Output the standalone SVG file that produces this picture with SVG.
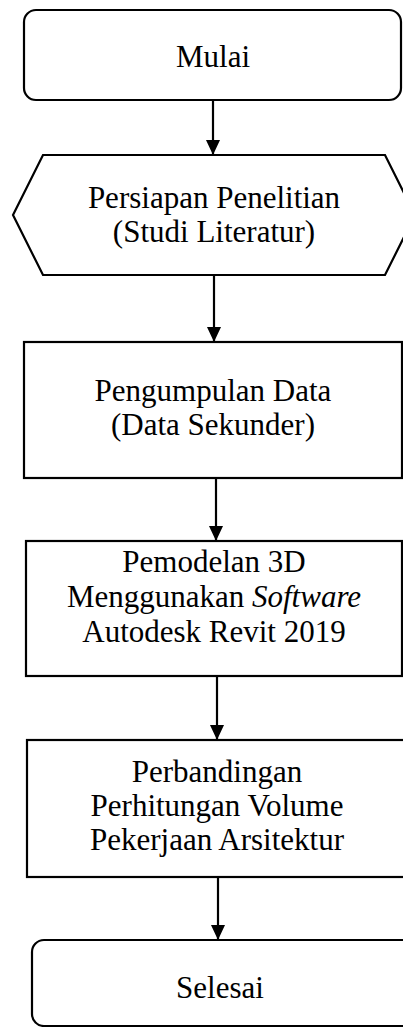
<svg xmlns="http://www.w3.org/2000/svg" width="403" height="1027" viewBox="0 0 403 1027">
<style>
.s{fill:#fff;stroke:#000;stroke-width:2.2}
.t{font-family:"Liberation Serif","Times New Roman",serif;font-size:31px;fill:#000;text-anchor:middle}
.c{stroke:#000;stroke-width:2.2;fill:none}
</style>
<defs>
<marker id="ah" markerUnits="userSpaceOnUse" markerWidth="16" markerHeight="16" viewBox="0 0 16 16" refX="15" refY="8" orient="auto">
<path d="M0,1 L15,8 L0,15 Z" fill="#000"/>
</marker>
</defs>
<rect width="403" height="1027" fill="#fff"/>
<g id="connectors">
<line class="c" x1="213" y1="100" x2="213" y2="155" marker-end="url(#ah)"/>
<line class="c" x1="214" y1="275" x2="214" y2="342" marker-end="url(#ah)"/>
<line class="c" x1="216" y1="478" x2="216" y2="541" marker-end="url(#ah)"/>
<line class="c" x1="217" y1="676" x2="217" y2="740" marker-end="url(#ah)"/>
<line class="c" x1="218" y1="877" x2="218" y2="940" marker-end="url(#ah)"/>
</g>
<g id="mulai">
<rect class="s" x="24" y="10" width="377" height="90" rx="12"/>
<text class="t" x="213" y="67">Mulai</text>
</g>
<g id="persiapan">
<polygon class="s" points="43,155 385,155 415,215 385,275 43,275 13,215"/>
<text class="t" x="214" y="208">Persiapan Penelitian</text>
<text class="t" x="214" y="242">(Studi Literatur)</text>
</g>
<g id="pengumpulan">
<rect class="s" x="24" y="342" width="378" height="136"/>
<text class="t" x="213" y="401">Pengumpulan Data</text>
<text class="t" x="213" y="435">(Data Sekunder)</text>
</g>
<g id="pemodelan">
<rect class="s" x="26" y="541" width="376" height="135"/>
<text class="t" x="214" y="572">Pemodelan 3D</text>
<text class="t" x="214" y="607">Menggunakan <tspan font-style="italic">Software</tspan></text>
<text class="t" x="214" y="642">Autodesk Revit 2019</text>
</g>
<g id="perbandingan">
<rect class="s" x="27" y="740" width="385" height="137"/>
<text class="t" x="217" y="782">Perbandingan</text>
<text class="t" x="217" y="816">Perhitungan Volume</text>
<text class="t" x="217" y="850">Pekerjaan Arsitektur</text>
</g>
<g id="selesai">
<rect class="s" x="32" y="940" width="385" height="86" rx="12"/>
<text class="t" x="220" y="998">Selesai</text>
</g>
</svg>
